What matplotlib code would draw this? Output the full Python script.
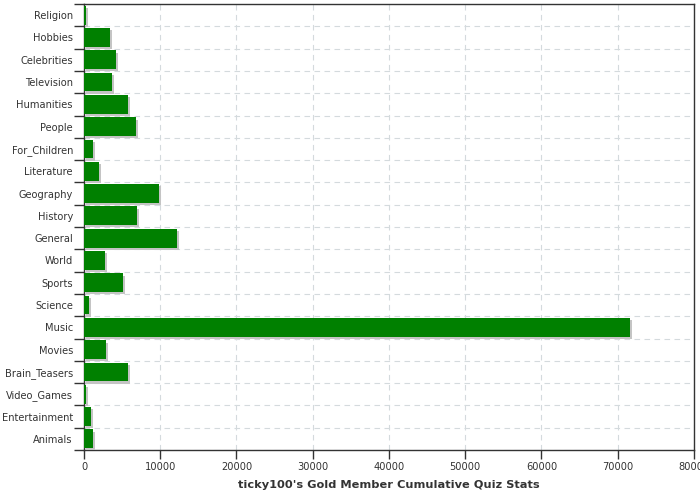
import numpy as np
from matplotlib import pyplot as plt
import matplotlib.patheffects as pe

# categories listed bottom to top
categories = ["Animals", "Entertainment", "Video_Games", "Brain_Teasers", "Movies",
              "Music", "Science", "Sports", "World", "General", "History",
              "Geography", "Literature", "For_Children", "People", "Humanities",
              "Television", "Celebrities", "Hobbies", "Religion"]
values = [1180, 920, 260, 5770, 2890,
          71600, 660, 5110, 2750, 12200, 6950,
          9840, 1970, 1180, 6820, 5770,
          3670, 4200, 3410, 260]
xticks = [0, 10000, 20000, 30000, 40000, 50000, 60000, 70000, 80000]
title = "ticky100's Gold Member Cumulative Quiz Stats"

plt.rcParams['font.family'] = ['DejaVu Sans']
fig = plt.figure(figsize=(7, 5), dpi=100)
ax = fig.add_axes([0.12, 0.1, 0.8714, 0.892])

pos = np.arange(len(categories))
# gray drop shadow under each bar
shadow = pe.SimplePatchShadow(offset=(1.6, -1.6), shadow_rgbFace='#c4c4c4', alpha=1.0)
ax.barh(pos, values, height=0.84, color='#008000', zorder=3,
        path_effects=[shadow, pe.Normal()])

ax.set_xlim(0, 80000)
ax.set_ylim(-0.5, len(categories) - 0.5)
ax.set_xticks(xticks)
ax.set_xticklabels([str(t) for t in xticks])
ax.set_yticks(pos)
ax.set_yticklabels(categories)
ax.set_yticks(np.arange(len(categories) + 1) - 0.5, minor=True)

ax.tick_params(axis='y', which='major', length=0, labelsize=7.1, labelcolor='#333333', pad=8)
ax.tick_params(axis='y', which='minor', length=7.2, width=1, color='#333333')
ax.tick_params(axis='x', which='major', length=6.5, width=1, color='#333333',
               labelsize=7.1, labelcolor='#333333', pad=2)

ax.grid(True, axis='y', which='minor', linestyle=(0, (5, 4)), color='#d4dadd', linewidth=0.8, zorder=0)
ax.grid(True, axis='x', which='major', linestyle=(0, (5, 4)), color='#d4dadd', linewidth=0.8, zorder=0)
ax.set_axisbelow(True)

for side in ['left', 'bottom', 'top', 'right']:
    ax.spines[side].set_color('#333333')
    ax.spines[side].set_linewidth(1)

ax.set_xlabel(title, fontsize=8.2, fontweight='bold', color='#333333', labelpad=6)

plt.savefig("out.png", dpi=100)
